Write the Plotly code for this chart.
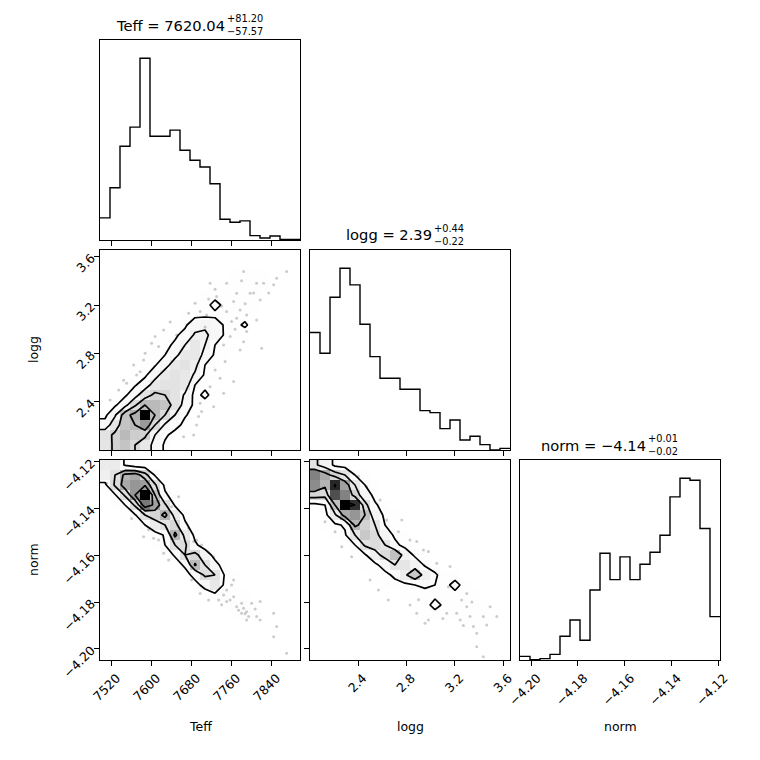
import numpy as np
import plotly.graph_objects as go
from plotly.subplots import make_subplots

# ---------------- data ----------------
teff_lim = [7496.8, 7896.8]
logg_lim = [2.003, 3.655]
norm_lim = [-4.2048, -4.1192]

teff_ticks = [7520, 7600, 7680, 7760, 7840]
logg_ticks = [2.4, 2.8, 3.2, 3.6]
norm_ticks = [-4.20, -4.18, -4.16, -4.14, -4.12]

# 1-D marginal histogram counts (20 bins each)
teff_counts = [66, 156, 280, 337, 543, 310, 310, 328, 268, 238, 218, 168, 62, 53, 57, 13, 6, 12, 2, 2]
logg_counts = [352, 290, 458, 545, 495, 377, 280, 215, 215, 182, 182, 118, 112, 64, 90, 30, 41, 16, 0, 5]
norm_counts = [11, 1, 4, 17, 71, 120, 59, 210, 320, 241, 309, 241, 287, 323, 374, 489, 545, 539, 394, 130]

# title values
teff_q = ["7620.04", "+81.20", "\u221257.57"]
logg_q = ["2.39", "+0.44", "\u22120.22"]
norm_q = ["\u22124.14", "+0.01", "\u22120.02"]

# 2-D histograms (rows listed from the top bin down)
teff_logg_grid = [
    [0, 0, 0, 0, 0, 0, 0, 0, 0, 0, 0, 0, 0, 0, 0, 0, 0, 1, 1, 0],
    [0, 0, 0, 0, 0, 0, 0, 0, 0, 0, 0, 0, 0, 1, 2, 2, 2, 2, 1, 0],
    [0, 0, 0, 0, 0, 0, 0, 0, 0, 0, 0, 1, 2, 3, 3, 3, 3, 2, 2, 0],
    [0, 0, 0, 0, 0, 0, 0, 0, 0, 0, 2, 3, 4, 4, 4, 4, 3, 1, 0, 0],
    [0, 0, 0, 0, 0, 0, 0, 0, 0, 2, 4, 4, 5, 5, 5, 4, 2, 0, 0, 0],
    [0, 0, 0, 0, 0, 0, 0, 0, 2, 3, 4, 12, 5, 5, 5, 3, 1, 0, 0, 0],
    [0, 0, 0, 0, 0, 0, 0, 2, 4, 5, 5, 5, 5, 5, 4, 2, 0, 0, 0, 0],
    [0, 0, 0, 0, 0, 0, 2, 3, 6, 16, 20, 16, 6, 5, 10, 2, 0, 0, 0, 0],
    [0, 0, 0, 0, 0, 1, 3, 6, 12, 24, 24, 18, 6, 4, 2, 0, 0, 0, 0, 0],
    [0, 0, 0, 0, 2, 3, 5, 10, 22, 30, 22, 8, 4, 2, 0, 0, 0, 0, 0, 0],
    [0, 0, 0, 1, 3, 5, 8, 18, 30, 30, 18, 6, 3, 1, 0, 0, 0, 0, 0, 0],
    [0, 0, 1, 3, 4, 7, 16, 30, 33, 26, 8, 4, 2, 0, 0, 0, 0, 0, 0, 0],
    [0, 1, 2, 4, 6, 16, 30, 33, 30, 20, 6, 3, 1, 0, 0, 0, 0, 0, 0, 0],
    [0, 2, 3, 7, 14, 30, 33, 33, 30, 8, 5, 2, 0, 0, 0, 0, 0, 0, 0, 0],
    [1, 3, 6, 16, 33, 42, 39, 33, 20, 4, 11, 3, 1, 0, 0, 0, 0, 0, 0, 0],
    [2, 6, 17, 37, 52, 52, 48, 33, 16, 5, 3, 1, 0, 0, 0, 0, 0, 0, 0, 0],
    [5, 20, 48, 56, 100, 52, 39, 22, 9, 4, 2, 0, 0, 0, 0, 0, 0, 0, 0, 0],
    [13, 32, 48, 52, 63, 39, 20, 12, 5, 2, 0, 0, 0, 0, 0, 0, 0, 0, 0, 0],
    [33, 42, 52, 44, 42, 22, 10, 4, 1, 0, 0, 0, 0, 0, 0, 0, 0, 0, 0, 0],
    [32, 42, 48, 39, 30, 17, 6, 2, 0, 0, 0, 0, 0, 0, 0, 0, 0, 0, 0, 0],
]

teff_norm_grid = [
    [28, 28, 10, 3, 1, 0, 0, 0, 0, 0, 0, 0, 0, 0, 0, 0, 0, 0, 0, 0],
    [24, 34, 54, 58, 42, 10, 2, 0, 0, 0, 0, 0, 0, 0, 0, 0, 0, 0, 0, 0],
    [8, 37, 58, 64, 62, 37, 8, 2, 0, 0, 0, 0, 0, 0, 0, 0, 0, 0, 0, 0],
    [2, 10, 37, 64, 100, 50, 15, 4, 1, 0, 0, 0, 0, 0, 0, 0, 0, 0, 0, 0],
    [0, 3, 12, 37, 73, 61, 37, 10, 2, 0, 0, 0, 0, 0, 0, 0, 0, 0, 0, 0],
    [0, 0, 3, 10, 34, 40, 55, 28, 8, 1, 0, 0, 0, 0, 0, 0, 0, 0, 0, 0],
    [0, 0, 0, 3, 12, 28, 34, 40, 15, 3, 0, 0, 0, 0, 0, 0, 0, 0, 0, 0],
    [0, 0, 0, 0, 3, 4, 14, 54, 30, 8, 2, 0, 0, 0, 0, 0, 0, 0, 0, 0],
    [0, 0, 0, 0, 0, 3, 12, 34, 37, 15, 4, 0, 0, 0, 0, 0, 0, 0, 0, 0],
    [0, 0, 0, 0, 0, 0, 3, 14, 34, 40, 22, 6, 1, 0, 0, 0, 0, 0, 0, 0],
    [0, 0, 0, 0, 0, 0, 0, 4, 15, 52, 34, 18, 4, 0, 0, 0, 0, 0, 0, 0],
    [0, 0, 0, 0, 0, 0, 0, 1, 5, 18, 37, 34, 10, 3, 0, 0, 0, 0, 0, 0],
    [0, 0, 0, 0, 0, 0, 0, 0, 0, 6, 18, 30, 8, 4, 2, 0, 0, 0, 0, 0],
    [0, 0, 0, 0, 0, 0, 0, 0, 0, 0, 3, 8, 10, 6, 4, 1, 0, 0, 0, 0],
    [0, 0, 0, 0, 0, 0, 0, 0, 0, 0, 0, 0, 3, 7, 8, 3, 1, 0, 0, 0],
    [0, 0, 0, 0, 0, 0, 0, 0, 0, 0, 0, 0, 2, 6, 7, 3, 2, 2, 0, 0],
    [0, 0, 0, 0, 0, 0, 0, 0, 0, 0, 0, 0, 0, 1, 2, 2, 1, 2, 0, 0],
    [0, 0, 0, 0, 0, 0, 0, 0, 0, 0, 0, 0, 0, 0, 0, 0, 0, 1, 1, 0],
    [0, 0, 0, 0, 0, 0, 0, 0, 0, 0, 0, 0, 0, 0, 0, 0, 0, 0, 1, 0],
    [0, 0, 0, 0, 0, 0, 0, 0, 0, 0, 0, 0, 0, 0, 0, 0, 0, 0, 0, 1],
]

logg_norm_grid = [
    [34, 22, 6, 3, 1, 0, 0, 0, 0, 0, 0, 0, 0, 0, 0, 0, 0, 0, 0, 0],
    [70, 58, 42, 31, 10, 3, 1, 0, 0, 0, 0, 0, 0, 0, 0, 0, 0, 0, 0, 0],
    [67, 54, 92, 61, 31, 10, 3, 1, 0, 0, 0, 0, 0, 0, 0, 0, 0, 0, 0, 0],
    [40, 37, 83, 70, 42, 18, 6, 2, 0, 0, 0, 0, 0, 0, 0, 0, 0, 0, 0, 0],
    [5, 10, 50, 100, 90, 37, 12, 4, 1, 0, 0, 0, 0, 0, 0, 0, 0, 0, 0, 0],
    [2, 5, 28, 58, 64, 50, 20, 7, 3, 0, 0, 0, 0, 0, 0, 0, 0, 0, 0, 0],
    [1, 3, 7, 12, 54, 42, 31, 10, 4, 2, 0, 0, 0, 0, 0, 0, 0, 0, 0, 0],
    [0, 2, 4, 8, 31, 46, 37, 20, 7, 3, 1, 0, 0, 0, 0, 0, 0, 0, 0, 0],
    [0, 0, 2, 4, 10, 34, 37, 31, 14, 5, 3, 1, 0, 0, 0, 0, 0, 0, 0, 0],
    [0, 0, 0, 2, 4, 8, 25, 37, 50, 22, 7, 4, 2, 0, 0, 0, 0, 0, 0, 0],
    [0, 0, 0, 0, 2, 3, 6, 18, 31, 31, 22, 8, 4, 2, 1, 0, 0, 0, 0, 0],
    [0, 0, 0, 0, 0, 1, 3, 5, 14, 28, 46, 24, 12, 4, 3, 2, 0, 0, 0, 0],
    [0, 0, 0, 0, 0, 0, 1, 3, 4, 6, 10, 12, 10, 5, 16, 4, 2, 1, 0, 0],
    [0, 0, 0, 0, 0, 0, 0, 1, 2, 3, 4, 6, 6, 6, 5, 4, 3, 2, 0, 0],
    [0, 0, 0, 0, 0, 0, 0, 0, 0, 1, 2, 4, 16, 6, 5, 4, 4, 3, 1, 0],
    [0, 0, 0, 0, 0, 0, 0, 0, 0, 0, 0, 1, 3, 4, 5, 5, 4, 3, 1, 0],
    [0, 0, 0, 0, 0, 0, 0, 0, 0, 0, 0, 0, 0, 1, 2, 3, 3, 2, 1, 0],
    [0, 0, 0, 0, 0, 0, 0, 0, 0, 0, 0, 0, 0, 0, 0, 1, 2, 1, 0, 0],
    [0, 0, 0, 0, 0, 0, 0, 0, 0, 0, 0, 0, 0, 0, 0, 0, 1, 0, 0, 0],
    [0, 0, 0, 0, 0, 0, 0, 0, 0, 0, 0, 0, 0, 0, 0, 0, 0, 0, 0, 1],
]

# individual samples lying outside the outer contour
tl_teff = [7784, 7870, 7717, 7750, 7810, 7824, 7844, 7850, 7770, 7797, 7817, 7764, 7697, 7750,
           7777, 7790, 7770, 7810, 7760, 7790, 7784, 7820, 7777, 7747, 7727, 7764, 7737, 7717,
           7744, 7697, 7724, 7700, 7684, 7690, 7664, 7624, 7600, 7587, 7564, 7570, 7550, 7534,
           7517, 7614, 7650, 7584, 7687, 7710, 7674, 7730, 7740, 7804, 7757, 7707, 7637, 7577,
           7727, 7787, 7834, 7767, 7714, 7744, 7607, 7544, 7694, 7780]
tl_logg = [3.477, 3.477, 3.380, 3.380, 3.380, 3.380, 3.367, 3.422, 3.298, 3.298, 3.243, 3.229,
           3.146, 3.146, 3.160, 3.119, 3.091, 3.077, 3.064, 2.981, 2.898, 2.843, 2.829, 2.733,
           2.664, 2.568, 2.595, 2.526, 2.471, 2.389, 2.361, 2.320, 2.127, 2.210, 2.113, 2.995,
           2.885, 2.802, 2.706, 2.623, 2.554, 2.499, 2.416, 2.857, 2.953, 2.747, 3.215, 3.119,
           3.133, 3.270, 3.190, 3.300, 2.940, 3.020, 3.060, 2.650, 3.330, 3.210, 3.300, 3.000,
           3.250, 2.870, 2.940, 2.580, 2.280, 3.400]

tn_teff = [7750, 7760, 7744, 7734, 7750, 7764, 7770, 7780, 7784, 7790, 7780, 7794, 7810, 7817,
           7790, 7817, 7844, 7850, 7844, 7870, 7764, 7714, 7594, 7614, 7634, 7624, 7560, 7584,
           7604, 7680, 7697, 7700, 7684, 7640, 7674, 7690, 7510, 7654, 7724, 7800, 7757,
           7774, 7787, 7740, 7807]
tn_norm = [-4.1748, -4.1727, -4.1770, -4.1791, -4.1798, -4.1777, -4.1820, -4.1805, -4.1827,
           -4.1841, -4.1848, -4.1862, -4.1862, -4.1877, -4.1877, -4.1798, -4.1848, -4.1905,
           -4.1948, -4.2019, -4.1706, -4.1791, -4.1491, -4.1534, -4.1620, -4.1591, -4.1442,
           -4.1520, -4.1527, -4.1706, -4.1763, -4.1556, -4.1541, -4.1392, -4.1484, -4.1534,
           -4.1292, -4.1349, -4.1606, -4.1805, -4.1791, -4.1835, -4.1850, -4.1812, -4.1830]

ln_logg = [2.127, 2.210, 2.265, 2.347, 2.499, 2.568, 2.650, 2.829, 2.885, 2.953, 2.981, 3.132,
           3.256, 3.298, 3.325, 3.353, 3.380, 3.435, 3.491, 3.546, 3.463, 3.243, 3.298, 3.215,
           2.829, 2.885, 2.940, 2.981, 2.637, 2.733, 2.761, 2.582, 2.471, 2.402, 3.050, 3.160,
           3.146, 3.380, 3.435, 3.100, 3.340, 3.270, 2.900]
ln_norm = [-4.1456, -4.1499, -4.1563, -4.1606, -4.1706, -4.1748, -4.1791, -4.1813, -4.1848,
           -4.1891, -4.1877, -4.1848, -4.1791, -4.1820, -4.1862, -4.1905, -4.1934, -4.1862,
           -4.1820, -4.1862, -4.1898, -4.1877, -4.1763, -4.1848, -4.1534, -4.1541, -4.1577,
           -4.1584, -4.1449, -4.1499, -4.1449, -4.1363, -4.1306, -4.1263, -4.1634, -4.1648,
           -4.1734, -4.1991, -4.2034, -4.1870, -4.1800, -4.1900, -4.1790]

# ---------------- helpers ----------------
NB = 20
SIG_LEVELS = 1.0 - np.exp(-0.5 * np.arange(0.5, 2.1, 0.5) ** 2)


def edges(lim):
    return np.linspace(lim[0], lim[1], NB + 1)


def centers(lim):
    e = edges(lim)
    return 0.5 * (e[1:] + e[:-1])


def corner_levels(H):
    flat = np.sort(H.ravel())[::-1]
    sm = np.cumsum(flat)
    sm = sm / sm[-1]
    V = np.empty(len(SIG_LEVELS))
    for i, v0 in enumerate(SIG_LEVELS):
        sel = flat[sm <= v0]
        V[i] = sel[-1] if len(sel) else flat[0]
    V.sort()
    m = np.diff(V) == 0
    while np.any(m):
        V[np.where(m)[0][0]] *= 1.0 - 1e-4
        V.sort()
        m = np.diff(V) == 0
    return V


def padded(H, xc, yc):
    ny, nx = H.shape
    H2 = np.full((ny + 4, nx + 4), H.min(), dtype=float)
    H2[2:-2, 2:-2] = H
    H2[2:-2, 1] = H[:, 0]
    H2[2:-2, -2] = H[:, -1]
    H2[1, 2:-2] = H[0, :]
    H2[-2, 2:-2] = H[-1, :]
    H2[1, 1] = H[0, 0]
    H2[1, -2] = H[0, -1]
    H2[-2, 1] = H[-1, 0]
    H2[-2, -2] = H[-1, -1]
    dx = xc[1] - xc[0]
    dy = yc[1] - yc[0]
    X2 = np.concatenate([xc[0] + np.array([-2, -1]) * dx, xc, xc[-1] + np.array([1, 2]) * dx])
    Y2 = np.concatenate([yc[0] + np.array([-2, -1]) * dy, yc, yc[-1] + np.array([1, 2]) * dy])
    return X2, Y2, H2


gray_scale = []
for t in np.linspace(0, 1, 21):
    g = int(round(255 * (1 - t * t)))
    gray_scale.append([float(t), f"rgb({g},{g},{g})"])

# ---------------- figure ----------------
W = 744            # page has an 8px body margin; plot area maps to page x 100..720, y 40..660
PL, PT, PW = 100, 40, 620
fig = make_subplots(rows=3, cols=3, horizontal_spacing=10 / 620, vertical_spacing=10 / 620)


def add_hist(counts, lim, row, col):
    e = edges(lim)
    y = list(counts) + [counts[-1]]
    fig.add_trace(go.Scatter(x=e, y=y, mode="lines", line=dict(color="black", width=1.4, shape="hv"),
                             hoverinfo="skip", showlegend=False), row=row, col=col)
    fig.update_yaxes(range=[0, 1.1 * max(counts)], row=row, col=col)


def add_2d(grid, xlim, ylim, px, py, row, col):
    H = np.array(grid, dtype=float)[::-1]
    xc, yc = centers(xlim), centers(ylim)
    fig.add_trace(go.Heatmap(x=xc, y=yc, z=H, zmin=0, zmax=H.max(), colorscale=gray_scale,
                             showscale=False, hoverinfo="skip"), row=row, col=col)
    fig.add_trace(go.Scatter(x=px, y=py, mode="markers",
                             marker=dict(size=3, color="rgba(0,0,0,0.2)", line=dict(width=0)),
                             hoverinfo="skip", showlegend=False), row=row, col=col)
    X2, Y2, H2 = padded(H, xc, yc)
    for v in corner_levels(H):
        fig.add_trace(go.Contour(x=X2, y=Y2, z=H2, autocontour=False,
                                 contours=dict(start=v, end=v, size=1, coloring="none"),
                                 line=dict(color="black", width=1.7, smoothing=0),
                                 showscale=False, hoverinfo="skip"), row=row, col=col)
    fig.update_xaxes(range=xlim, row=row, col=col)
    fig.update_yaxes(range=ylim, row=row, col=col)


add_hist(teff_counts, teff_lim, 1, 1)
add_hist(logg_counts, logg_lim, 2, 2)
add_hist(norm_counts, norm_lim, 3, 3)
fig.update_xaxes(range=teff_lim, row=1, col=1)
fig.update_xaxes(range=logg_lim, row=2, col=2)
fig.update_xaxes(range=norm_lim, row=3, col=3)

add_2d(teff_logg_grid, teff_lim, logg_lim, tl_teff, tl_logg, 2, 1)
add_2d(teff_norm_grid, teff_lim, norm_lim, tn_teff, tn_norm, 3, 1)
add_2d(logg_norm_grid, logg_lim, norm_lim, ln_logg, ln_norm, 3, 2)

axis_common = dict(showline=True, mirror=True, linecolor="black", linewidth=1, showgrid=False,
                   zeroline=False, ticks="outside", ticklen=5, tickwidth=1, tickcolor="black",
                   automargin=False,
                   tickfont=dict(family="DejaVu Sans", size=12.5, color="black"))
fig.update_xaxes(**axis_common)
fig.update_yaxes(**axis_common)

for r, c in [(1, 2), (1, 3), (2, 3)]:
    fig.update_xaxes(visible=False, row=r, col=c)
    fig.update_yaxes(visible=False, row=r, col=c)

# x ticks
fig.update_xaxes(tickvals=teff_ticks, showticklabels=False, row=1, col=1)
fig.update_xaxes(tickvals=teff_ticks, showticklabels=False, row=2, col=1)
fig.update_xaxes(tickvals=teff_ticks, tickangle=-45, ticklabelshift=5, row=3, col=1)
fig.update_xaxes(tickvals=logg_ticks, showticklabels=False, row=2, col=2)
fig.update_xaxes(tickvals=logg_ticks, tickangle=-45, tickformat=".1f", ticklabelshift=5, row=3, col=2)
fig.update_xaxes(tickvals=norm_ticks, tickangle=-45, tickformat=".2f", ticklabelshift=6, row=3, col=3)
# y ticks
fig.update_yaxes(ticks="", showticklabels=False, row=1, col=1)
fig.update_yaxes(ticks="", showticklabels=False, row=2, col=2)
fig.update_yaxes(ticks="", showticklabels=False, row=3, col=3)
fig.update_yaxes(tickvals=logg_ticks, tickangle=-45, tickformat=".1f", row=2, col=1)
fig.update_yaxes(tickvals=norm_ticks, tickangle=-45, tickformat=".2f", row=3, col=1)
fig.update_yaxes(tickvals=norm_ticks, showticklabels=False, row=3, col=2)

ann = []


def px_x(x):
    return (x - PL) / PW


def px_y(y):
    return 1 - (y - PT) / PW


def title(name, q, xsplit, top):
    ann.append(dict(text=f"{name} = {q[0]}", x=px_x(xsplit), y=px_y(top - 15), xanchor="right",
                    yanchor="middle", font=dict(size=14.7)))
    ann.append(dict(text=f"{q[1]}<br>{q[2]}", x=px_x(xsplit), y=px_y(top - 15.5),
                    xanchor="left", yanchor="middle", align="left", font=dict(size=9.8)))


title("Teff", teff_q, 226, 40)
title("logg", logg_q, 433, 250)
title("norm", norm_q, 646.5, 460)

for txt, x, y, ang in [("Teff", 200, 726, 0), ("logg", 410, 726, 0), ("norm", 620, 726, 0),
                       ("logg", 33, 350, -90), ("norm", 33, 560, -90)]:
    ann.append(dict(text=txt, x=px_x(x), y=px_y(y), xanchor="center", yanchor="middle",
                    textangle=ang, font=dict(size=12.5)))

for a in ann:
    a.update(xref="paper", yref="paper", showarrow=False, borderpad=0)
    a["font"].update(family="DejaVu Sans", color="black")

fig.update_layout(annotations=ann, width=W, height=W, margin=dict(l=92, r=32, t=32, b=92),
                  paper_bgcolor="white", plot_bgcolor="white", showlegend=False,
                  font=dict(family="DejaVu Sans", color="black"))

fig.write_html("out.html")
